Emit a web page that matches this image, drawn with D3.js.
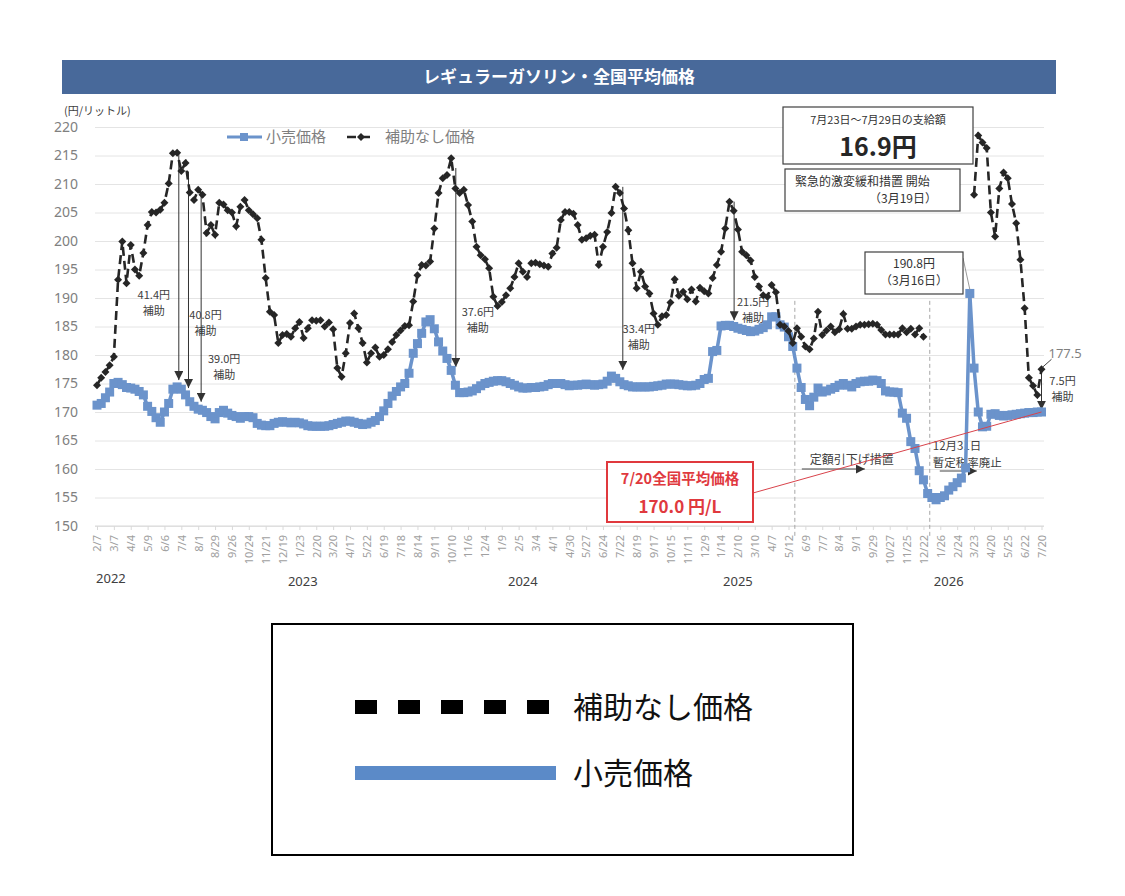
<!DOCTYPE html>
<html>
<head>
<meta charset="utf-8">
<script src="https://cdn.jsdelivr.net/npm/d3@7"></script>
<style>
body { margin: 0; background: #fff; }
text { font-family: "Noto Sans CJK JP", "Noto Sans", sans-serif; }
</style>
</head>
<body>
<script>
// x-axis labels, one every 4 weekly points
const tickLabels = ["2/7","3/7","4/4","5/9","6/6","7/4","8/1","8/29","9/26","10/24","11/21","12/19",
  "1/23","2/20","3/20","4/17","5/22","6/19","7/18","8/14","9/11","10/10","11/6","12/4",
  "1/9","2/5","3/4","4/1","4/30","5/27","6/24","7/22","8/19","9/17","10/15","11/11","12/9",
  "1/14","2/10","3/10","4/7","5/12","6/9","7/7","8/4","9/1","9/29","10/27","11/25","12/22",
  "1/26","2/24","3/23","4/20","5/25","6/22","7/20"];
const years = ["2022","2023","2024","2025","2026"];
const yearAt = [3.3, 48.8, 101, 152, 202]; // index position under the axis

// 小売価格 (weekly)
const retail = [171.2,171.5,172.5,173.5,175.0,175.2,174.8,174.3,174.2,174.0,
  173.6,173.0,171.0,170.1,169.0,168.2,170.0,171.5,174.0,174.4,
  174.0,173.0,171.8,171.0,170.5,170.3,169.9,169.2,168.8,169.9,
  170.3,169.8,169.4,169.2,168.9,169.2,169.2,169.0,168.0,167.7,
  167.6,167.6,168.0,168.2,168.3,168.2,168.1,168.2,168.1,167.9,
  167.6,167.5,167.5,167.5,167.5,167.6,167.8,168.0,168.2,168.4,
  168.4,168.2,168.0,167.8,167.9,168.2,168.5,169.2,170.2,171.5,
  172.8,173.6,174.4,175.0,176.8,180.3,182.0,183.8,185.8,186.2,
  184.6,182.3,180.7,179.4,177.3,174.7,173.4,173.4,173.5,173.7,
  174.1,174.6,175.0,175.2,175.4,175.5,175.5,175.3,175.0,174.7,
  174.4,174.2,174.2,174.3,174.3,174.4,174.5,174.8,175.0,175.0,
  175.0,174.8,174.6,174.7,174.7,174.8,174.9,174.8,174.7,174.8,
  174.9,175.4,176.3,175.9,175.3,174.8,174.6,174.4,174.4,174.4,
  174.4,174.4,174.5,174.6,174.7,174.9,174.9,174.9,174.8,174.7,
  174.6,174.6,174.7,175.0,175.7,175.9,180.6,180.8,185.1,185.2,
  185.2,185.0,184.7,184.5,184.3,184.1,184.2,184.5,184.8,185.3,
  186.7,186.7,185.3,184.9,183.2,181.5,177.7,174.3,172.2,171.1,
  172.6,174.2,173.5,173.7,174.0,174.3,174.7,175.0,174.7,174.4,
  175.0,175.3,175.4,175.4,175.6,175.5,175.0,173.7,173.5,173.5,
  173.4,169.8,168.9,164.8,163.6,159.7,158.1,155.7,155.0,154.6,
  155.0,155.3,156.3,156.9,157.6,158.4,160.2,190.8,177.7,170.0,
  167.4,167.5,169.6,169.7,169.4,169.3,169.4,169.5,169.6,169.7,
  169.8,169.9,169.9,170.0,170.0];

// 補助なし価格 (weekly, null = no value)
const noSubsidy = [174.7,176.0,177.0,178.2,179.7,193.2,199.9,192.6,199.3,195.0,
  193.9,197.9,202.8,205.1,205.0,205.5,206.7,210.1,215.4,215.5,
  212.3,213.7,208.5,207.2,209.0,208.1,201.4,202.8,201.1,206.7,
  206.4,205.4,205.0,202.6,206.0,207.2,205.4,204.7,204.0,200.2,
  193.5,187.6,187.0,182.1,183.5,183.7,183.2,184.7,185.8,183.0,
  184.7,186.1,186.0,186.1,185.0,185.7,184.5,177.7,176.2,180.3,
  185.6,187.3,184.7,182.1,178.7,180.3,181.3,179.7,180.0,181.0,
  182.3,183.5,184.3,185.1,185.2,189.4,194.0,195.8,195.7,196.4,
  202.2,208.4,211.0,211.6,214.5,209.2,208.4,209.0,206.3,203.4,
  199.0,197.5,196.8,195.2,190.2,188.6,189.3,190.5,191.7,193.7,
  196.1,194.6,193.7,196.1,196.2,195.9,195.7,195.5,197.8,198.8,
  203.7,205.1,205.1,204.8,202.8,200.2,200.5,200.9,201.1,195.8,
  199.0,201.6,204.9,209.5,208.4,205.7,201.9,196.1,191.7,194.6,
  192.0,190.8,187.3,185.3,186.8,187.0,189.2,193.3,190.4,191.1,
  189.8,191.5,189.4,191.8,191.2,190.8,193.5,195.8,198.1,202.2,
  206.9,205.3,202.0,198.1,197.5,196.6,193.7,192.0,190.5,190.2,
  192.3,191.0,185.3,185.0,184.2,182.1,184.7,183.2,181.5,181.0,
  182.9,187.6,183.5,184.3,185.0,184.0,184.5,187.2,184.6,184.6,
  185.0,185.3,185.3,185.4,185.5,185.3,184.4,183.6,183.6,183.6,
  183.6,184.7,184.0,184.6,183.6,184.7,183.2,null,null,null,
  null,null,null,null,null,null,null,null,208.1,218.5,
  217.3,216.3,205.0,200.8,209.2,212.0,211.0,206.5,203.1,196.7,
  188.2,176.0,174.6,173.0,177.5];

// subsidy arrows: index, from / to (円), label
const subsidyAt = [19.4, 21.7, 24.7, 85.1, 124.7, 151.1, 224];
const subsidyFrom = [215.4, 212.2, 208.1, 212.8, 209.5, 206.9, 177.7];
const subsidyTo = [175.6, 174.2, 171.8, 177.9, 177.4, 186.1, 170.4];
const subsidyText = ["41.4円", "40.8円", "39.0円", "37.6円", "33.4円", "21.5円", "7.5円"];
const subsidyOff = [[-25,-85],[17,-73],[23,-43],[22,-55],[16,-41],[19,-18],[21,-29]];

// dashed event lines
const eventAt = [165.5, 197.5];

const W = 1125, H = 896;
const blue = "#6b93cb", dark = "#262626";
const svg = d3.select("body").append("svg").attr("width", W).attr("height", H);

const x = d3.scaleLinear().domain([0, 224]).range([97, 1041.5]);
const y = d3.scaleLinear().domain([150, 220]).range([526, 127]);

const defs = svg.append("defs");
defs.append("marker").attr("id", "ah").attr("viewBox", "0 0 10 10")
  .attr("refX", 10).attr("refY", 5).attr("markerWidth", 9).attr("markerHeight", 9)
  .attr("markerUnits", "userSpaceOnUse").attr("orient", "auto")
  .append("path").attr("d", "M0,0L10,5L0,10Z").attr("fill", "#333");

// multi-line label
function label(px, py, lines, size, opts = {}) {
  const t = svg.append("text").attr("x", px).attr("y", py).attr("font-size", size)
    .attr("fill", opts.fill || "#404040").attr("text-anchor", opts.anchor || "middle");
  lines.forEach((s, k) => {
    t.append("tspan").attr("x", px).attr("dy", k === 0 ? "0.35em" : (opts.lh || 16)).text(s);
  });
  return t;
}

// title bar
svg.append("rect").attr("x", 62).attr("y", 60).attr("width", 994).attr("height", 34).attr("fill", "#48699a");
svg.append("text").attr("x", 559).attr("y", 77).attr("dy", "0.35em").attr("text-anchor", "middle")
  .attr("fill", "#fff").attr("font-size", 17).attr("font-weight", "bold").text("レギュラーガソリン・全国平均価格");

// y grid + labels
const yAxis = svg.append("g").attr("transform", "translate(95,0)")
  .call(d3.axisLeft(y).tickValues(d3.range(150, 221, 5)).tickSize(-949).tickPadding(17));
yAxis.select(".domain").remove();
yAxis.selectAll("line").attr("stroke", "#e4e4e4");
yAxis.selectAll("text").attr("fill", "#808080").attr("font-size", 14)
  .style("font-family", "'Noto Sans', sans-serif");

svg.append("text").attr("x", 64).attr("y", 111).attr("dy", "0.35em").attr("font-size", 11)
  .attr("fill", "#404040").text("(円/リットル)");

// x axis
const xAxis = svg.append("g").attr("transform", "translate(0,526)")
  .call(d3.axisBottom(x).tickValues(d3.range(0, 225, 4)).tickFormat((d, i) => tickLabels[i]).tickSize(4));
xAxis.select(".domain").attr("stroke", "#d9d9d9").attr("d", "M95,0H1044");
xAxis.selectAll("line").attr("stroke", "#d9d9d9");
xAxis.selectAll("text").attr("fill", "#a0a0a0").attr("font-size", 11)
  .style("font-family", "'Noto Sans', sans-serif")
  .attr("transform", "rotate(-90)").attr("x", -9).attr("y", 0).attr("dy", "0.35em")
  .style("text-anchor", "end");

svg.selectAll(".year").data(years).join("text").attr("class", "year")
  .attr("x", (d, i) => x(yearAt[i])).attr("y", (d, i) => i === 0 ? 578 : 581).attr("dy", "0.35em")
  .attr("text-anchor", "middle").attr("font-size", 13).attr("fill", "#404040")
  .style("font-family", "'Noto Sans', sans-serif").text(d => d);

// event dashed lines
svg.selectAll(".evt").data(eventAt).join("line").attr("class", "evt")
  .attr("x1", d => x(d)).attr("x2", d => x(d)).attr("y1", y(189.5)).attr("y2", 536)
  .attr("stroke", "#a6a6a6").attr("stroke-width", 1).attr("stroke-dasharray", "4,3");

// subsidy labels (under the series)
subsidyText.forEach((t, k) => {
  const lx = x(subsidyAt[k]) + subsidyOff[k][0], ly = y(subsidyTo[k]) + subsidyOff[k][1];
  label(lx, ly, [t, "補助"], 11, { lh: 16.2 });
});
subsidyAt.forEach((a, k) => {
  svg.append("line").attr("x1", x(a)).attr("x2", x(a)).attr("y1", y(subsidyFrom[k])).attr("y2", y(subsidyTo[k]))
    .attr("stroke", "#333").attr("stroke-width", 1).attr("marker-end", "url(#ah)");
});

// event arrows + text
function evtArrow(x1, x2, yy) {
  svg.append("line").attr("x1", x1).attr("x2", x2).attr("y1", yy).attr("y2", yy)
    .attr("stroke", "#444").attr("stroke-width", 1.2).attr("marker-end", "url(#ah)");
}
evtArrow(x(eventAt[0]) + 7, x(eventAt[0]) + 70, 469);
label(x(eventAt[0]) + 15, 460, ["定額引下げ措置"], 12, { anchor: "start" });
evtArrow(x(eventAt[1]) + 10, x(eventAt[1]) + 47, 471);
label(x(eventAt[1]) + 3, 446, ["12月31日", "暫定税率廃止"], 11.5, { anchor: "start", lh: 17 });

// retail series
const idx = d3.range(retail.length);
svg.append("path").datum(idx)
  .attr("d", d3.line().x(i => x(i)).y(i => y(retail[i])))
  .attr("fill", "none").attr("stroke", blue).attr("stroke-width", 3.5);
svg.selectAll(".sq").data(idx).join("rect").attr("class", "sq")
  .attr("x", i => x(i) - 4.5).attr("y", i => y(retail[i]) - 4.5).attr("width", 9).attr("height", 9)
  .attr("fill", blue);

// no-subsidy series
svg.append("path").datum(idx)
  .attr("d", d3.line().defined(i => noSubsidy[i] != null).x(i => x(i)).y(i => y(noSubsidy[i])))
  .attr("fill", "none").attr("stroke", dark).attr("stroke-width", 2.6).attr("stroke-dasharray", "9,5");
svg.selectAll(".dm").data(idx.filter(i => noSubsidy[i] != null)).join("path").attr("class", "dm")
  .attr("transform", i => `translate(${x(i)},${y(noSubsidy[i])})`)
  .attr("d", "M0,-4L4,0L0,4L-4,0Z").attr("fill", dark);

// 177.5 label
const last = retail.length - 1;
svg.append("line").attr("x1", x(last) + 1).attr("y1", y(noSubsidy[last]) - 2).attr("x2", x(last) + 10).attr("y2", y(noSubsidy[last]) - 10)
  .attr("stroke", "#444").attr("stroke-width", 1);
svg.append("text").attr("x", x(last) + 7).attr("y", y(noSubsidy[last]) - 16).attr("dy", "0.35em")
  .attr("font-size", 13).attr("fill", "#7f7f7f").style("font-family", "'Noto Sans', sans-serif").text("177.5");

// red callout
svg.append("line").attr("x1", 753).attr("y1", 493).attr("x2", x(last)).attr("y2", y(retail[last]))
  .attr("stroke", "#d9434b").attr("stroke-width", 1);
svg.append("rect").attr("x", 607).attr("y", 462).attr("width", 146).attr("height", 60)
  .attr("fill", "#fff").attr("stroke", "#e0393e").attr("stroke-width", 2);
label(680, 479, ["7/20全国平均価格"], 14.5, { fill: "#e0393e" }).attr("font-weight", "bold");
label(680, 507, ["170.0 円/L"], 17, { fill: "#e0393e" }).attr("font-weight", "bold");

// top-right boxes
svg.append("rect").attr("x", 783).attr("y", 107).attr("width", 190).attr("height", 57)
  .attr("fill", "#fff").attr("stroke", "#404040").attr("stroke-width", 1.2);
label(878, 120, ["7月23日～7月29日の支給額"], 11, { fill: "#333" });
label(878, 147, ["16.9円"], 25, { fill: dark }).attr("font-weight", "bold");

svg.append("rect").attr("x", 785).attr("y", 169).attr("width", 175).attr("height", 42)
  .attr("fill", "#fff").attr("stroke", "#404040").attr("stroke-width", 1.2);
label(795, 181.5, ["緊急的激変緩和措置 開始"], 12, { fill: "#333", anchor: "start" });
label(937, 199, ["（3月19日）"], 12, { fill: "#333", anchor: "end" });

const peak = retail.indexOf(d3.max(retail.slice(200)));
svg.append("line").attr("x1", 963).attr("y1", 258).attr("x2", x(peak)).attr("y2", y(retail[peak]) - 4)
  .attr("stroke", "#999").attr("stroke-width", 1);
svg.append("rect").attr("x", 865).attr("y", 252).attr("width", 98).attr("height", 42)
  .attr("fill", "#fff").attr("stroke", "#404040").attr("stroke-width", 1.2);
label(914, 263.5, [retail[peak].toFixed(1) + "円", "（3月16日）"], 12, { fill: "#333", lh: 17.6 });

// in-chart legend
svg.append("line").attr("x1", 227).attr("x2", 262).attr("y1", 137).attr("y2", 137)
  .attr("stroke", blue).attr("stroke-width", 3);
svg.append("rect").attr("x", 240).attr("y", 133).attr("width", 8).attr("height", 8).attr("fill", blue);
svg.append("text").attr("x", 266).attr("y", 137).attr("dy", "0.35em").attr("font-size", 15)
  .attr("fill", "#7f7f7f").text("小売価格");
svg.append("line").attr("x1", 347).attr("x2", 375).attr("y1", 137).attr("y2", 137)
  .attr("stroke", dark).attr("stroke-width", 2.6).attr("stroke-dasharray", "9,5");
svg.append("path").attr("transform", "translate(361,137)").attr("d", "M0,-4L4,0L0,4L-4,0Z").attr("fill", dark);
svg.append("text").attr("x", 385).attr("y", 137).attr("dy", "0.35em").attr("font-size", 15)
  .attr("fill", "#7f7f7f").text("補助なし価格");

// bottom legend
svg.append("rect").attr("x", 272).attr("y", 624).attr("width", 581).attr("height", 231)
  .attr("fill", "#fff").attr("stroke", "#000").attr("stroke-width", 2);
svg.append("line").attr("x1", 355).attr("x2", 550).attr("y1", 707).attr("y2", 707)
  .attr("stroke", "#000").attr("stroke-width", 14).attr("stroke-dasharray", "22,21");
svg.append("text").attr("x", 573).attr("y", 707).attr("dy", "0.35em").attr("font-size", 30)
  .attr("fill", "#111").text("補助なし価格");
svg.append("line").attr("x1", 355).attr("x2", 556).attr("y1", 773).attr("y2", 773)
  .attr("stroke", "#5b8ac8").attr("stroke-width", 14);
svg.append("text").attr("x", 573).attr("y", 773).attr("dy", "0.35em").attr("font-size", 30)
  .attr("fill", "#111").text("小売価格");
</script>
</body>
</html>
